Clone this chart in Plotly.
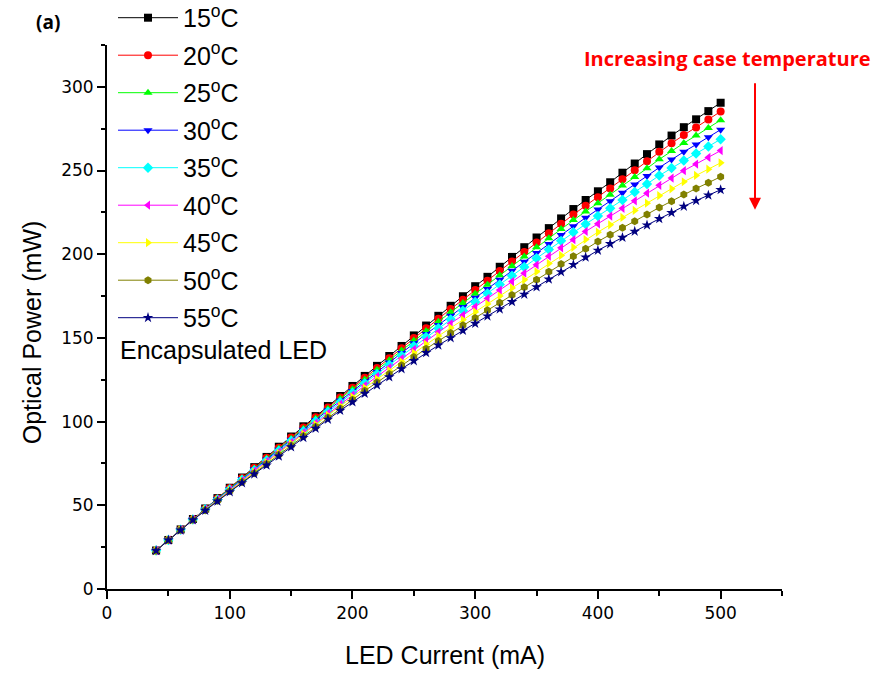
import plotly.graph_objects as go

current_mA = list(range(40, 501, 10))

p15 = [23.0, 29.3, 35.6, 41.8, 48.1, 54.3, 60.5, 66.6, 72.8, 78.9, 85.0, 91.1, 97.2, 103.3, 109.3, 115.3,
       121.3, 127.3, 133.3, 139.2, 145.2, 151.5, 157.4, 163.2, 169.2, 174.9, 180.9, 186.5, 192.5, 198.4,
       204.2, 210.0, 215.6, 221.4, 227.0, 232.4, 237.6, 243.0, 248.7, 254.2, 259.8, 265.6, 270.9, 275.9,
       280.6, 285.5, 290.5]
p20 = [23.0, 29.3, 35.5, 41.7, 48.0, 54.1, 60.3, 66.3, 72.4, 78.4, 84.4, 90.5, 96.5, 102.6, 108.5, 114.4,
       120.3, 126.2, 132.1, 137.9, 143.8, 150.0, 155.8, 161.4, 167.3, 172.8, 178.7, 184.1, 190.0, 195.7,
       201.4, 207.0, 212.5, 218.2, 223.7, 229.0, 234.1, 239.3, 244.8, 250.1, 255.6, 261.2, 266.3, 271.2,
       275.7, 280.5, 285.3]
p25 = [23.0, 29.3, 35.5, 41.7, 47.9, 53.9, 60.0, 66.0, 72.0, 77.9, 83.9, 89.8, 95.8, 101.8, 107.7, 113.6,
       119.4, 125.2, 131.0, 136.7, 142.5, 148.5, 154.1, 159.7, 165.4, 170.8, 176.4, 181.8, 187.4, 193.0,
       198.6, 204.1, 209.5, 215.0, 220.4, 225.6, 230.5, 235.6, 241.0, 246.1, 251.3, 256.7, 261.7, 266.4,
       270.9, 275.4, 280.1]
p30 = [23.0, 29.3, 35.4, 41.6, 47.7, 53.7, 59.7, 65.6, 71.5, 77.4, 83.2, 89.1, 95.1, 101.0, 106.8, 112.6,
       118.3, 124.0, 129.7, 135.3, 141.0, 146.8, 152.3, 157.7, 163.2, 168.5, 174.0, 179.2, 184.7, 190.1,
       195.5, 200.8, 206.1, 211.5, 216.7, 221.8, 226.7, 231.6, 236.7, 241.6, 246.7, 251.8, 256.6, 261.2,
       265.5, 269.9, 274.4]
p35 = [23.0, 29.3, 35.4, 41.5, 47.6, 53.5, 59.5, 65.3, 71.0, 76.8, 82.6, 88.5, 94.3, 100.2, 105.9, 111.6,
       117.3, 122.9, 128.5, 133.9, 139.4, 145.1, 150.6, 155.8, 161.1, 166.3, 171.5, 176.6, 181.9, 187.1,
       192.4, 197.6, 202.8, 208.0, 213.1, 218.0, 222.8, 227.5, 232.4, 237.2, 242.0, 247.0, 251.5, 256.0,
       260.2, 264.4, 268.7]
p40 = [22.9, 29.2, 35.3, 41.5, 47.4, 53.3, 59.1, 64.8, 70.5, 76.2, 81.9, 87.6, 93.5, 99.2, 104.9, 110.5,
       116.0, 121.5, 127.0, 132.3, 137.7, 143.1, 148.4, 153.5, 158.6, 163.6, 168.6, 173.6, 178.6, 183.7,
       188.7, 193.7, 198.8, 203.8, 208.7, 213.6, 218.2, 222.8, 227.4, 231.9, 236.5, 241.2, 245.5, 249.9,
       253.9, 257.8, 261.9]
p45 = [22.9, 29.2, 35.3, 41.4, 47.3, 53.0, 58.8, 64.4, 69.9, 75.5, 81.1, 86.8, 92.5, 98.2, 103.8, 109.3,
       114.7, 120.1, 125.4, 130.5, 135.7, 141.0, 146.2, 151.1, 156.0, 160.8, 165.5, 170.3, 175.0, 179.9,
       184.7, 189.6, 194.5, 199.3, 204.1, 208.8, 213.2, 217.6, 222.0, 226.2, 230.5, 235.0, 239.1, 243.3,
       247.1, 250.8, 254.6]
p50 = [22.9, 29.2, 35.2, 41.3, 47.1, 52.7, 58.4, 63.9, 69.2, 74.7, 80.2, 85.7, 91.4, 97.0, 102.5, 107.9,
       113.1, 118.4, 123.5, 128.5, 133.6, 138.6, 143.5, 148.2, 152.9, 157.5, 161.9, 166.5, 171.0, 175.6,
       180.2, 184.8, 189.6, 194.2, 198.8, 203.3, 207.6, 211.7, 215.8, 219.7, 223.8, 227.9, 231.7, 235.7,
       239.3, 242.7, 246.3]
p55 = [22.9, 29.2, 35.1, 41.2, 46.9, 52.4, 58.0, 63.4, 68.6, 73.9, 79.3, 84.8, 90.4, 95.9, 101.3, 106.6,
       111.7, 116.8, 121.8, 126.6, 131.5, 136.3, 141.1, 145.6, 150.0, 154.4, 158.6, 163.0, 167.2, 171.6,
       176.0, 180.4, 185.0, 189.4, 193.8, 198.2, 202.3, 206.2, 210.0, 213.6, 217.4, 221.2, 224.8, 228.6,
       232.0, 235.2, 238.5]

series_labels = ["15", "20", "25", "30", "35", "40", "45", "50", "55"]
series_values = [p15, p20, p25, p30, p35, p40, p45, p50, p55]
series_colors = ["#000000", "#FF0000", "#00FF00", "#0000FF", "#00FFFF",
                 "#FF00FF", "#FFFF00", "#808000", "#000080"]
series_symbols = ["square", "circle", "triangle-up", "triangle-down", "diamond",
                  "triangle-left", "triangle-right", "hexagon", "star"]

FONT = "Liberation Sans"

fig = go.Figure()
for i, (lab, vals, col, sym) in enumerate(zip(series_labels, series_values, series_colors, series_symbols)):
    fig.add_trace(go.Scatter(
        x=current_mA, y=vals, mode="lines+markers",
        name=f"{lab}<sup>o</sup>C",
        legendgroup=f"g{i}",
        line=dict(color=col, width=1),
        marker=dict(symbol=sym, size=8, color=col, line=dict(width=0)),
    ))

axis_font = dict(family="DejaVu Sans", size=17, color="#000000")
fig.update_layout(
    width=876, height=673,
    margin=dict(l=107, r=94, t=45, b=84, autoexpand=False),
    paper_bgcolor="white", plot_bgcolor="white",
    font=dict(family=FONT, color="#000000", size=18),
    showlegend=True,
    legend=dict(
        xref="paper", yref="paper",
        x=0.0089, y=1.092, xanchor="left", yanchor="top",
        bgcolor="rgba(0,0,0,0)", borderwidth=0,
        font=dict(family=FONT, size=25, color="#000000"),
        tracegroupgap=2, itemwidth=60, maxheight=640,
    ),
    xaxis=dict(
        range=[0, 550], tickmode="array", tickvals=[0, 100, 200, 300, 400, 500],
        automargin=False,
        showgrid=False, zeroline=False, showline=True, linecolor="#000000", linewidth=2,
        ticks="outside", ticklen=8, tickwidth=2, tickcolor="#000000",
        tickfont=axis_font,
        minor=dict(tickvals=[50, 150, 250, 350, 450, 550], ticks="outside", ticklen=5, tickwidth=2, tickcolor="#000000"),
    ),
    yaxis=dict(
        range=[0, 325], tickmode="array", tickvals=[0, 50, 100, 150, 200, 250, 300],
        automargin=False,
        showgrid=False, zeroline=False, showline=True, linecolor="#000000", linewidth=2,
        ticks="outside", ticklen=8, tickwidth=2, tickcolor="#000000",
        tickfont=axis_font,
        minor=dict(tickvals=[25, 75, 125, 175, 225, 275, 325], ticks="outside", ticklen=4, tickwidth=2, tickcolor="#000000"),
    ),
)

# axis titles
fig.add_annotation(text="LED Current (mA)", xref="paper", yref="paper", x=0.5, y=-0.121,
                   xanchor="center", yanchor="middle", showarrow=False,
                   font=dict(family=FONT, size=25, color="#000000"))
fig.add_annotation(text="Optical Power (mW)", xref="paper", yref="paper", x=-0.111, y=0.472,
                   xanchor="center", yanchor="middle", showarrow=False, textangle=-90,
                   font=dict(family=FONT, size=25, color="#000000"))

fig.add_annotation(text="Encapsulated LED", xref="paper", yref="paper", x=0.016, y=0.44,
                   xanchor="left", yanchor="middle", showarrow=False,
                   font=dict(family=FONT, size=25, color="#000000"))
fig.add_annotation(text="<b>(a)</b>", xref="paper", yref="paper", x=-0.0874, y=1.042,
                   xanchor="center", yanchor="middle", showarrow=False,
                   font=dict(family="Open Sans", size=19, color="#000000"))
fig.add_annotation(text="<b>Increasing case temperature</b>", xref="paper", yref="paper", x=0.919, y=0.976,
                   xanchor="center", yanchor="middle", showarrow=False,
                   font=dict(family="Open Sans", size=20, color="#FF0000"))
fig.add_annotation(text="", xref="paper", yref="paper", x=0.96, y=0.697,
                   axref="pixel", ayref="pixel", ax=0, ay=-128,
                   showarrow=True, arrowhead=2, arrowsize=1.2, arrowwidth=2, arrowcolor="#FF0000")

fig.write_html("out.html", config={"displayModeBar": False},
               post_script="document.body.style.margin='0px';")
